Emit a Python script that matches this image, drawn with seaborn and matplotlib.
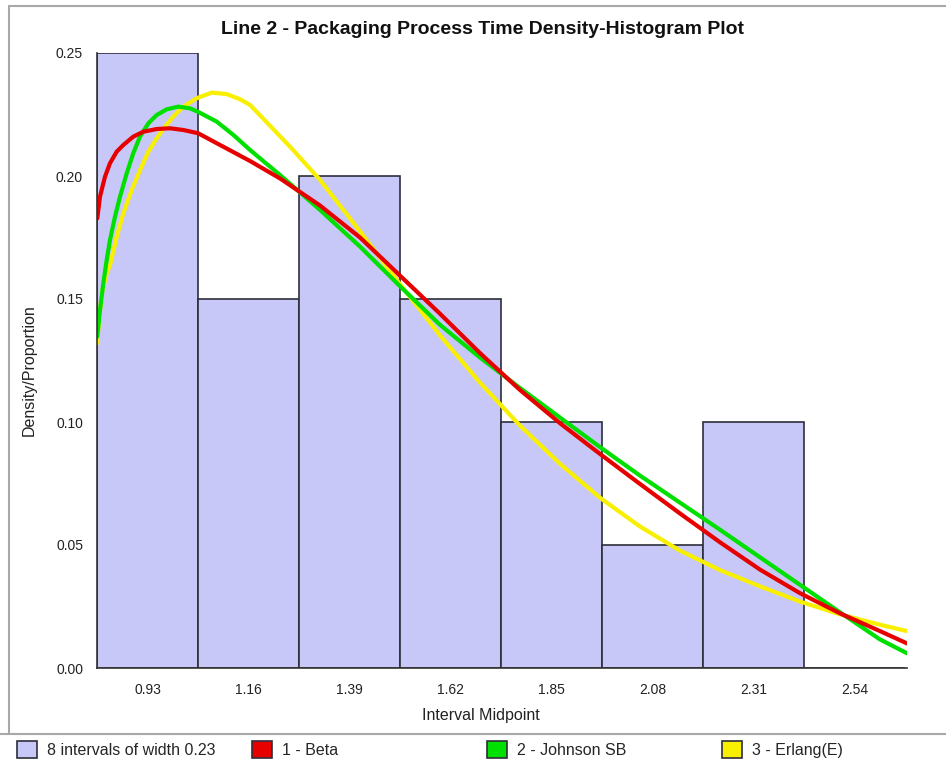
import numpy as np
import pandas as pd
import matplotlib
matplotlib.use('Agg')
import matplotlib.pyplot as plt
import seaborn as sns
from matplotlib.patches import Patch
from matplotlib.lines import Line2D

# ---------------- data ----------------
bin_midpoints = [0.93, 1.16, 1.39, 1.62, 1.85, 2.08, 2.31, 2.54]
proportions = [0.25, 0.15, 0.20, 0.15, 0.10, 0.05, 0.10, 0.0]
bin_width = 0.23

beta_x = [0.8157, 0.8218, 0.8332, 0.8446, 0.8599, 0.8749, 0.8977, 0.9205, 0.9510, 0.9813,
          1.0116, 1.0450, 1.1027, 1.1635, 1.2319, 1.3230, 1.4141, 1.5052, 1.5963, 1.6874,
          1.7786, 1.8697, 1.9608, 2.0519, 2.1430, 2.2341, 2.3252, 2.4164, 2.5075, 2.5986, 2.6600]
beta_y = [0.1828, 0.1916, 0.1997, 0.2052, 0.2099, 0.2126, 0.2160, 0.2180, 0.2191, 0.2194,
          0.2187, 0.2174, 0.2119, 0.2061, 0.1990, 0.1880, 0.1750, 0.1595, 0.1440, 0.1280,
          0.1130, 0.0995, 0.0870, 0.0748, 0.0628, 0.0511, 0.0400, 0.0304, 0.0222, 0.0150, 0.0100]

johnson_x = [0.8157, 0.8218, 0.8294, 0.8371, 0.8446, 0.8560, 0.8674, 0.8827, 0.8977, 0.9130,
             0.9319, 0.9510, 0.9738, 1.0002, 1.0268, 1.0450, 1.0877, 1.1255, 1.1635, 1.2319,
             1.3230, 1.4141, 1.5052, 1.5963, 1.6874, 1.7786, 1.8697, 1.9608, 2.0519, 2.1430,
             2.2341, 2.3252, 2.4164, 2.5075, 2.5986, 2.6600]
johnson_y = [0.1347, 0.1455, 0.1564, 0.1659, 0.1740, 0.1835, 0.1916, 0.2011, 0.2093, 0.2160,
             0.2214, 0.2248, 0.2271, 0.2282, 0.2275, 0.2261, 0.2221, 0.2167, 0.2106, 0.2004,
             0.1862, 0.1713, 0.1552, 0.1395, 0.1262, 0.1138, 0.1018, 0.0898, 0.0782, 0.0672,
             0.0562, 0.0450, 0.0338, 0.0226, 0.0116, 0.0060]

erlang_x = [0.8150, 0.8257, 0.8371, 0.8446, 0.8599, 0.8749, 0.8940, 0.9130, 0.9319, 0.9510,
            0.9699, 0.9888, 1.0116, 1.0419, 1.0763, 1.1104, 1.1408, 1.1635, 1.2114, 1.2615,
            1.3230, 1.4141, 1.5052, 1.5963, 1.6874, 1.7786, 1.8697, 1.9608, 2.0519, 2.1430,
            2.2341, 2.3252, 2.4164, 2.5075, 2.5986, 2.6600]
erlang_y = [0.1320, 0.1523, 0.1605, 0.1638, 0.1753, 0.1848, 0.1943, 0.2024, 0.2099, 0.2153,
            0.2201, 0.2242, 0.2282, 0.2316, 0.2339, 0.2333, 0.2312, 0.2289, 0.2200, 0.2106,
            0.1984, 0.1775, 0.1560, 0.1352, 0.1160, 0.0985, 0.0830, 0.0692, 0.0575, 0.0477,
            0.0398, 0.0332, 0.0270, 0.0218, 0.0176, 0.0150]

y_ticks = [0.00, 0.05, 0.10, 0.15, 0.20, 0.25]

title = "Line 2 - Packaging Process Time Density-Histogram Plot"
x_label = "Interval Midpoint"
y_label = "Density/Proportion"
legend_labels = ["8 intervals of width 0.23", "1 - Beta", "2 - Johnson SB", "3 - Erlang(E)"]

bar_color = "#c8c8f8"
edge_color = "#2e2e3a"
beta_color = "#e60000"
johnson_color = "#00e000"
erlang_color = "#f8f000"

# ---------------- figure ----------------
sns.set_theme(style="white")
plt.rcParams['font.family'] = ['Liberation Sans', 'DejaVu Sans']

W, H = 946, 763
fig = plt.figure(figsize=(W / 100, H / 100), dpi=100)
ax = fig.add_axes([97 / W, 1 - 668 / H, 810 / W, 615 / H])

edges = [m - bin_width / 2 for m in bin_midpoints] + [bin_midpoints[-1] + bin_width / 2]
sns.histplot(x=bin_midpoints, weights=proportions, bins=edges, stat="count",
             color=bar_color, edgecolor=edge_color, linewidth=1.2, alpha=1.0, ax=ax)

for xs, ys, col in [(erlang_x, erlang_y, erlang_color),
                    (johnson_x, johnson_y, johnson_color),
                    (beta_x, beta_y, beta_color)]:
    sns.lineplot(x=xs, y=ys, color=col, linewidth=3, ax=ax, estimator=None,
                 sort=False, solid_capstyle="round", solid_joinstyle="round")

ax.set_xlim(0.815, 2.66)
ax.set_ylim(0, 0.25)
ax.set_xticks(bin_midpoints)
ax.set_xticklabels([f"{v:.2f}" for v in bin_midpoints], fontsize=10, color="#222222")
ax.set_yticks(y_ticks)
ax.set_yticklabels([f"{v:.2f}" for v in y_ticks], fontsize=10, color="#222222")
ax.tick_params(axis="both", direction="out", length=4, width=1, color="#888888", pad=6)
ax.tick_params(axis="x", pad=7)
for s in ["top", "right"]:
    ax.spines[s].set_visible(False)
for s in ["left", "bottom"]:
    ax.spines[s].set_color("#333333")
    ax.spines[s].set_linewidth(1.2)
ax.set_xlabel(x_label, fontsize=11.5, color="#222222")
ax.set_ylabel(y_label, fontsize=11.5, color="#222222")
ax.xaxis.set_label_coords((481 - 97) / 810, (668 - 708) / 615)
ax.yaxis.set_label_coords((37 - 97) / 810, (668 - 370) / 615)
ax.set_facecolor("white")

fig.text(482 / W, 1 - 29 / H, title, ha="center", va="center", fontsize=14,
         fontweight="bold", color="#111111")

# frame lines
line_c = "#a8a8a8"
fig.add_artist(Line2D([9 / W, 1], [1 - 6 / H, 1 - 6 / H], color=line_c, lw=1.5, transform=fig.transFigure))
fig.add_artist(Line2D([9 / W, 9 / W], [1 - 6 / H, 1 - 734 / H], color=line_c, lw=1.5, transform=fig.transFigure))
fig.add_artist(Line2D([0, 1], [1 - 734 / H, 1 - 734 / H], color=line_c, lw=1.5, transform=fig.transFigure))

# legend entries
leg_colors = [bar_color, beta_color, johnson_color, erlang_color]
leg_x = [17, 252, 487, 722]
for lab, col, lx in zip(legend_labels, leg_colors, leg_x):
    h = Patch(facecolor=col, edgecolor=edge_color, linewidth=1.2)
    fig.legend(handles=[h], labels=[lab], loc="center left",
               bbox_to_anchor=(lx / W, 1 - 749.5 / H), frameon=False,
               fontsize=11.5, handlelength=1.25, handleheight=1.25,
               handletextpad=0.65, borderpad=0, borderaxespad=0)

fig.savefig("out.png", dpi=100, facecolor="white")
